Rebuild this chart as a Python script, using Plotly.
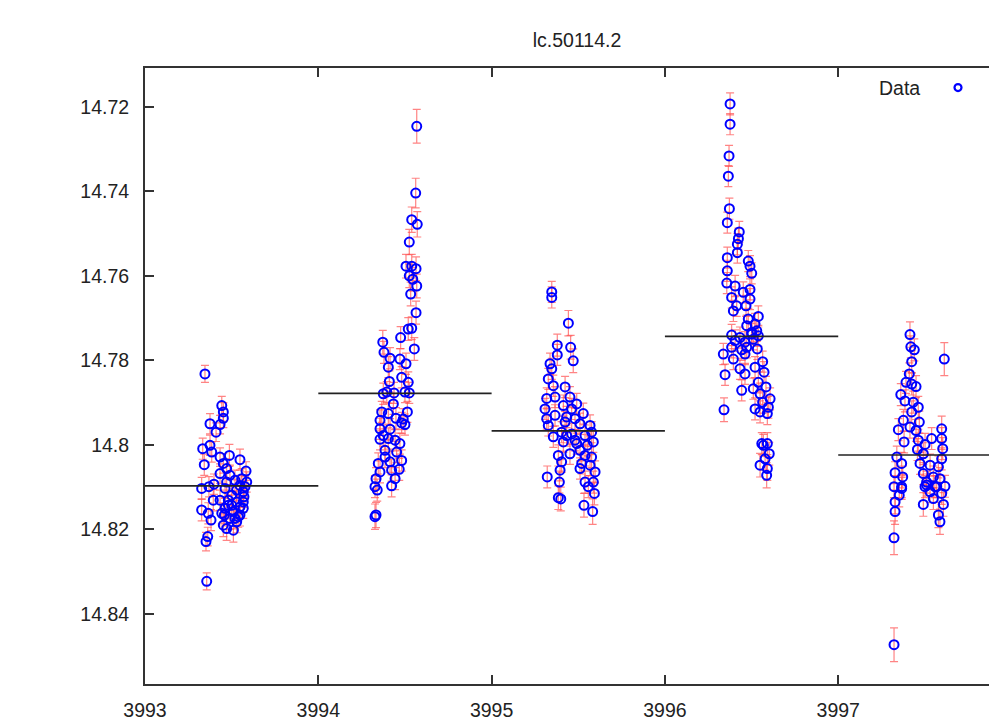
import plotly.graph_objects as go

# ---------------- data (time, magnitude, error) ----------------
n1_t = [3993.346, 3993.443, 3993.452, 3993.452, 3993.375, 3993.433, 3993.410, 3993.333, 3993.375, 3993.385,
        3993.342, 3993.433, 3993.487, 3993.548, 3993.583, 3993.587, 3993.327, 3993.398, 3993.369, 3993.394,
        3993.327, 3993.365, 3993.381, 3993.362, 3993.352, 3993.356, 3993.452, 3993.471, 3993.490, 3993.519,
        3993.548, 3993.567, 3993.571, 3993.529, 3993.481, 3993.462, 3993.510, 3993.548, 3993.490, 3993.529,
        3993.452, 3993.471, 3993.510, 3993.538, 3993.567, 3993.500, 3993.443, 3993.558, 3993.471, 3993.433,
        3993.462, 3993.529, 3993.500, 3993.548, 3993.481, 3993.519, 3993.567, 3993.433, 3993.577, 3993.458]
n1_m = [14.7832, 14.7907, 14.7922, 14.7937, 14.7950, 14.7952, 14.7970, 14.8009, 14.8001, 14.8017,
        14.8047, 14.8029, 14.8025, 14.8035, 14.8062, 14.8088, 14.8103, 14.8093, 14.8099, 14.8131,
        14.8154, 14.8162, 14.8178, 14.8217, 14.8229, 14.8323, 14.8044, 14.8056, 14.8072, 14.8084,
        14.8096, 14.8111, 14.8123, 14.8135, 14.8143, 14.8150, 14.8158, 14.8166, 14.8174, 14.8182,
        14.8190, 14.8198, 14.8202, 14.8170, 14.8150, 14.8119, 14.8162, 14.8080, 14.8088, 14.8068,
        14.8103, 14.8107, 14.8143, 14.8147, 14.8131, 14.8174, 14.8135, 14.8131, 14.8099, 14.8166]
n1_e = [0.0020, 0.0022, 0.0022, 0.0022, 0.0024, 0.0022, 0.0022, 0.0025, 0.0024, 0.0024,
        0.0025, 0.0022, 0.0026, 0.0025, 0.0022, 0.0024, 0.0026, 0.0024, 0.0024, 0.0025,
        0.0026, 0.0025, 0.0025, 0.0022, 0.0022, 0.0020, 0.0023, 0.0023, 0.0024, 0.0024,
        0.0024, 0.0024, 0.0025, 0.0024, 0.0024, 0.0025, 0.0025, 0.0026, 0.0026, 0.0026,
        0.0027, 0.0028, 0.0028, 0.0025, 0.0024, 0.0024, 0.0025, 0.0024, 0.0024, 0.0023,
        0.0024, 0.0024, 0.0024, 0.0025, 0.0024, 0.0025, 0.0024, 0.0024, 0.0024, 0.0026]

n2_t = [3994.568, 3994.562, 3994.539, 3994.571, 3994.525, 3994.506, 3994.539, 3994.564, 3994.525, 3994.545,
        3994.568, 3994.533, 3994.564, 3994.539, 3994.519, 3994.475, 3994.554, 3994.372, 3994.379, 3994.414,
        3994.404, 3994.471, 3994.506, 3994.481, 3994.410, 3994.519, 3994.375, 3994.395, 3994.437, 3994.500,
        3994.525, 3994.433, 3994.366, 3994.404, 3994.514, 3994.448, 3994.356, 3994.481, 3994.500, 3994.356,
        3994.414, 3994.356, 3994.404, 3994.443, 3994.471, 3994.385, 3994.452, 3994.346, 3994.414, 3994.481,
        3994.356, 3994.423, 3994.467, 3994.333, 3994.443, 3994.327, 3994.423, 3994.340, 3994.333, 3994.327,
        3994.385, 3994.490, 3994.375]
n2_m = [14.7246, 14.7404, 14.7467, 14.7478, 14.7520, 14.7577, 14.7577, 14.7583, 14.7600, 14.7608,
        14.7624, 14.7643, 14.7687, 14.7724, 14.7726, 14.7746, 14.7773, 14.7757, 14.7781, 14.7795,
        14.7816, 14.7797, 14.7808, 14.7840, 14.7850, 14.7852, 14.7879, 14.7875, 14.7877, 14.7875,
        14.7877, 14.7903, 14.7922, 14.7926, 14.7922, 14.7937, 14.7942, 14.7948, 14.7952, 14.7962,
        14.7963, 14.7987, 14.7985, 14.7989, 14.7997, 14.8013, 14.8017, 14.8044, 14.8040, 14.8037,
        14.8064, 14.8060, 14.8058, 14.8080, 14.8080, 14.8099, 14.8097, 14.8107, 14.8166, 14.8170,
        14.8029, 14.7939, 14.7978]
n2_e = [0.0040, 0.0035, 0.0030, 0.0030, 0.0030, 0.0028, 0.0028, 0.0028, 0.0028, 0.0028,
        0.0028, 0.0028, 0.0027, 0.0027, 0.0027, 0.0026, 0.0027, 0.0028, 0.0026, 0.0025,
        0.0025, 0.0025, 0.0025, 0.0025, 0.0025, 0.0025, 0.0025, 0.0025, 0.0025, 0.0025,
        0.0025, 0.0025, 0.0025, 0.0025, 0.0025, 0.0025, 0.0025, 0.0025, 0.0025, 0.0025,
        0.0025, 0.0025, 0.0025, 0.0025, 0.0025, 0.0025, 0.0025, 0.0025, 0.0025, 0.0025,
        0.0026, 0.0026, 0.0026, 0.0026, 0.0026, 0.0026, 0.0026, 0.0026, 0.0030, 0.0030,
        0.0025, 0.0025, 0.0025]

n3_t = [3995.347, 3995.347, 3995.443, 3995.379, 3995.456, 3995.379, 3995.471, 3995.337, 3995.347, 3995.327,
        3995.356, 3995.424, 3995.318, 3995.366, 3995.452, 3995.414, 3995.491, 3995.462, 3995.529, 3995.318,
        3995.366, 3995.433, 3995.481, 3995.327, 3995.424, 3995.510, 3995.568, 3995.356, 3995.404, 3995.462,
        3995.539, 3995.577, 3995.414, 3995.491, 3995.552, 3995.587, 3995.385, 3995.452, 3995.510, 3995.577,
        3995.404, 3995.520, 3995.568, 3995.395, 3995.510, 3995.597, 3995.321, 3995.391, 3995.539, 3995.587,
        3995.558, 3995.593, 3995.385, 3995.399, 3995.533, 3995.583, 3995.308, 3995.433, 3995.481, 3995.539]
n3_m = [14.7638, 14.7651, 14.7712, 14.7764, 14.7769, 14.7787, 14.7801, 14.7808, 14.7820, 14.7844,
        14.7860, 14.7863, 14.7890, 14.7887, 14.7887, 14.7907, 14.7903, 14.7915, 14.7926, 14.7938,
        14.7930, 14.7934, 14.7938, 14.7954, 14.7946, 14.7950, 14.7954, 14.7981, 14.7970, 14.7974,
        14.7978, 14.7970, 14.7993, 14.7997, 14.8001, 14.7993, 14.8025, 14.8021, 14.8013, 14.8029,
        14.8040, 14.8044, 14.8048, 14.8060, 14.8056, 14.8064, 14.8076, 14.8088, 14.8088, 14.8088,
        14.8099, 14.8115, 14.8125, 14.8128, 14.8143, 14.8158, 14.7915, 14.7978, 14.7989, 14.8025]
n3_e = [0.0025, 0.0025, 0.0030, 0.0026, 0.0028, 0.0025, 0.0028, 0.0025, 0.0025, 0.0025,
        0.0025, 0.0025, 0.0025, 0.0025, 0.0025, 0.0025, 0.0025, 0.0025, 0.0025, 0.0025,
        0.0025, 0.0025, 0.0025, 0.0025, 0.0025, 0.0025, 0.0025, 0.0025, 0.0025, 0.0025,
        0.0025, 0.0025, 0.0025, 0.0025, 0.0025, 0.0025, 0.0025, 0.0025, 0.0025, 0.0025,
        0.0025, 0.0025, 0.0025, 0.0025, 0.0025, 0.0026, 0.0026, 0.0026, 0.0026, 0.0026,
        0.0026, 0.0027, 0.0028, 0.0028, 0.0028, 0.0030, 0.0025, 0.0025, 0.0025, 0.0025]

n4_t = [3996.376, 3996.376, 3996.370, 3996.366, 3996.372, 3996.360, 3996.429, 3996.424, 3996.418, 3996.418,
        3996.360, 3996.481, 3996.491, 3996.501, 3996.360, 3996.357, 3996.405, 3996.491, 3996.385, 3996.452,
        3996.491, 3996.414, 3996.468, 3996.395, 3996.539, 3996.481, 3996.520, 3996.472, 3996.530, 3996.501,
        3996.385, 3996.433, 3996.539, 3996.462, 3996.405, 3996.337, 3996.385, 3996.443, 3996.395, 3996.462,
        3996.533, 3996.564, 3996.347, 3996.520, 3996.433, 3996.462, 3996.572, 3996.539, 3996.443, 3996.510,
        3996.583, 3996.549, 3996.607, 3996.564, 3996.520, 3996.597, 3996.341, 3996.591, 3996.559, 3996.591,
        3996.602, 3996.578, 3996.549, 3996.591, 3996.587, 3996.568, 3996.501, 3996.472, 3996.510, 3996.549]
n4_m = [14.7193, 14.7241, 14.7316, 14.7364, 14.7441, 14.7474, 14.7496, 14.7512, 14.7525, 14.7545,
        14.7557, 14.7565, 14.7577, 14.7594, 14.7588, 14.7617, 14.7624, 14.7632, 14.7651, 14.7639,
        14.7655, 14.7671, 14.7671, 14.7683, 14.7696, 14.7702, 14.7714, 14.7718, 14.7730, 14.7734,
        14.7740, 14.7746, 14.7742, 14.7757, 14.7753, 14.7785, 14.7769, 14.7775, 14.7797, 14.7785,
        14.7773, 14.7803, 14.7834, 14.7816, 14.7820, 14.7832, 14.7828, 14.7852, 14.7871, 14.7867,
        14.7863, 14.7879, 14.7891, 14.7899, 14.7915, 14.7911, 14.7917, 14.7926, 14.7997, 14.7997,
        14.8021, 14.8033, 14.8048, 14.8056, 14.8072, 14.8001, 14.7738, 14.7769, 14.7750, 14.7922]
n4_e = [0.0026, 0.0025, 0.0025, 0.0025, 0.0025, 0.0025, 0.0025, 0.0025, 0.0025, 0.0025,
        0.0025, 0.0025, 0.0025, 0.0025, 0.0025, 0.0025, 0.0025, 0.0025, 0.0025, 0.0025,
        0.0025, 0.0025, 0.0025, 0.0025, 0.0025, 0.0025, 0.0025, 0.0025, 0.0025, 0.0025,
        0.0025, 0.0025, 0.0025, 0.0025, 0.0025, 0.0025, 0.0025, 0.0025, 0.0025, 0.0025,
        0.0025, 0.0025, 0.0025, 0.0025, 0.0025, 0.0025, 0.0025, 0.0025, 0.0025, 0.0025,
        0.0025, 0.0025, 0.0026, 0.0026, 0.0026, 0.0026, 0.0028, 0.0026, 0.0026, 0.0026,
        0.0027, 0.0027, 0.0028, 0.0028, 0.0030, 0.0026, 0.0025, 0.0025, 0.0025, 0.0026]

n5_t = [3997.414, 3997.419, 3997.439, 3997.612, 3997.424, 3997.410, 3997.391, 3997.424, 3997.449, 3997.361,
        3997.385, 3997.433, 3997.462, 3997.424, 3997.376, 3997.468, 3997.347, 3997.414, 3997.449, 3997.597,
        3997.539, 3997.597, 3997.380, 3997.462, 3997.501, 3997.603, 3997.338, 3997.457, 3997.491, 3997.597,
        3997.366, 3997.472, 3997.530, 3997.578, 3997.328, 3997.372, 3997.491, 3997.549, 3997.587, 3997.510,
        3997.322, 3997.366, 3997.501, 3997.558, 3997.616, 3997.352, 3997.328, 3997.328, 3997.322, 3997.322,
        3997.491, 3997.607, 3997.578, 3997.587, 3997.510, 3997.568, 3997.530, 3997.597, 3997.549, 3997.366]
n5_m = [14.7739, 14.7768, 14.7775, 14.7797, 14.7803, 14.7832, 14.7852, 14.7856, 14.7862, 14.7881,
        14.7896, 14.7899, 14.7911, 14.7922, 14.7942, 14.7946, 14.7964, 14.7958, 14.7966, 14.7962,
        14.7985, 14.7985, 14.7993, 14.7989, 14.7999, 14.8009, 14.8029, 14.8011, 14.8021, 14.8033,
        14.8044, 14.8044, 14.8048, 14.8052, 14.8066, 14.8076, 14.8068, 14.8076, 14.8080, 14.8088,
        14.8099, 14.8099, 14.8099, 14.8099, 14.8098, 14.8119, 14.8135, 14.8158, 14.8220, 14.8473,
        14.8141, 14.8141, 14.8166, 14.8182, 14.8095, 14.8099, 14.8111, 14.8115, 14.8127, 14.8103]
n5_e = [0.0030, 0.0026, 0.0026, 0.0039, 0.0026, 0.0026, 0.0026, 0.0026, 0.0026, 0.0026,
        0.0026, 0.0026, 0.0026, 0.0026, 0.0026, 0.0026, 0.0026, 0.0026, 0.0026, 0.0030,
        0.0026, 0.0026, 0.0026, 0.0026, 0.0026, 0.0026, 0.0026, 0.0026, 0.0026, 0.0026,
        0.0026, 0.0026, 0.0026, 0.0026, 0.0026, 0.0026, 0.0026, 0.0026, 0.0026, 0.0026,
        0.0026, 0.0026, 0.0026, 0.0026, 0.0026, 0.0028, 0.0028, 0.0030, 0.0040, 0.0040,
        0.0028, 0.0028, 0.0030, 0.0030, 0.0026, 0.0026, 0.0026, 0.0026, 0.0026, 0.0026]

# nightly mean levels
night_start = [3993, 3994, 3995, 3996, 3997]
night_end = [3994, 3995, 3996, 3997, 3998]
night_mean = [14.8097, 14.7878, 14.7967, 14.7743, 14.8024]

x_ticks = [3993, 3994, 3995, 3996, 3997]
y_ticks = [14.72, 14.74, 14.76, 14.78, 14.80, 14.82, 14.84]
y_tick_text = ["14.72", "14.74", "14.76", "14.78", "14.8", "14.82", "14.84"]

title_text = "lc.50114.2"
series_name = "Data"

# ---------------- figure ----------------
t_all = n1_t + n2_t + n3_t + n4_t + n5_t
m_all = n1_m + n2_m + n3_m + n4_m + n5_m
e_all = n1_e + n2_e + n3_e + n4_e + n5_e

FONT = "Liberation Sans, Arial, Helvetica, sans-serif"
BLUE = "#0000ff"

fig = go.Figure()
fig.add_trace(go.Scatter(
    x=t_all, y=m_all, mode="markers", showlegend=False,
    marker=dict(symbol="circle-open", color=BLUE, size=9, line=dict(width=2, color=BLUE)),
    error_y=dict(type="data", array=e_all, visible=True,
                 color="rgba(255,80,80,0.7)", thickness=1.2, width=4),
))

for s, e, mval in zip(night_start, night_end, night_mean):
    fig.add_trace(go.Scatter(x=[s, e], y=[mval, mval], mode="lines",
                             line=dict(color="#222222", width=1.7),
                             showlegend=False, hoverinfo="skip"))

# legend key (no data of its own)
fig.add_trace(go.Scatter(x=[None], y=[None], mode="markers", name="",
                         marker=dict(symbol="circle-open", color=BLUE, size=7,
                                     line=dict(width=2.2, color=BLUE)),
                         showlegend=True))

W, H = 989, 721
L, R, T, B = 145, 0, 68, 35

fig.update_layout(
    width=W, height=H,
    margin=dict(l=L, r=R, t=T, b=B),
    paper_bgcolor="white", plot_bgcolor="white",
    font=dict(family=FONT, size=19.5, color="#222222"),
    title=dict(text=title_text, x=577 / W, xref="container", xanchor="center",
               y=1 - 40 / H, yref="container", yanchor="middle",
               font=dict(family=FONT, size=19.5, color="#222222")),
    showlegend=True,
    legend=dict(x=(960 - L - 22) / (W - L - R), xanchor="left",
                y=(686 - 88) / (H - T - B), yanchor="middle",
                bgcolor="rgba(0,0,0,0)", borderwidth=0,
                font=dict(size=19.5), itemwidth=30),
    annotations=[dict(text=series_name, xref="paper", yref="paper",
                      x=(899 - L) / (W - L - R), y=(686 - 88) / (H - T - B),
                      xanchor="center", yanchor="middle", showarrow=False,
                      font=dict(family=FONT, size=19.5, color="#222222"))],
)

fig.update_xaxes(
    range=[3993, 3997.870], tickvals=x_ticks, ticktext=[str(v) for v in x_ticks],
    ticks="inside", ticklen=9, tickwidth=1.5, tickcolor="#333333",
    showline=True, linewidth=2, linecolor="#333333", mirror="ticks",
    showgrid=False, zeroline=False, ticklabelstandoff=8,
)
fig.update_yaxes(
    range=[14.8566, 14.7108], tickvals=y_ticks, ticktext=y_tick_text,
    ticks="inside", ticklen=9, tickwidth=1.5, tickcolor="#333333",
    showline=True, linewidth=2, linecolor="#333333", mirror=False,
    showgrid=False, zeroline=False, ticklabelstandoff=10,
)

# remove the default page margin so the figure sits at the window's top-left corner
fig.write_html("out.html",
               config={"displayModeBar": False},
               post_script="document.body.style.margin='0';document.body.style.overflow='hidden';")
